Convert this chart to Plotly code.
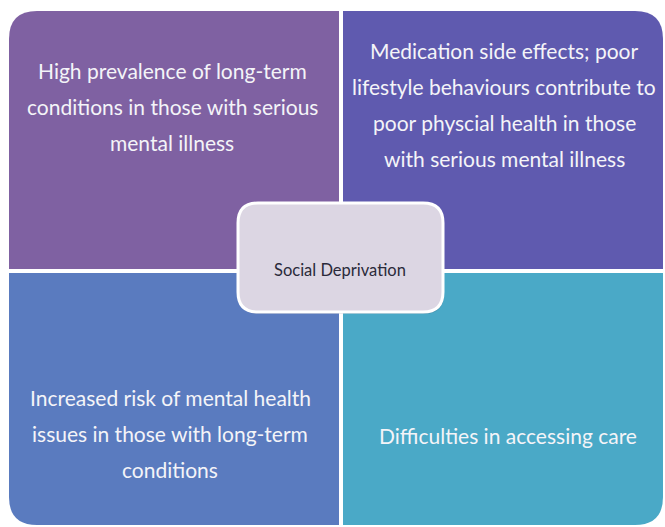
import plotly.graph_objects as go

W, H = 665, 527

# Quadrant content
quad_names = ["top_left", "top_right", "bottom_left", "bottom_right"]
quad_lines = [
    ["High prevalence of long-term", "conditions in those with serious", "mental illness"],
    ["Medication side effects; poor", "lifestyle behaviours contribute to", "poor physcial health in those", "with serious mental illness"],
    ["Increased risk of mental health", "issues in those with long-term", "conditions"],
    ["Difficulties in accessing care"],
]
quad_colors = ["#7F61A2", "#5F5AAF", "#5A7BBF", "#4AA9C7"]
center_label = "Social Deprivation"

# Geometry (pixel coords, y downward)
L, R, T, B = 9, 663, 11, 525
VX0, VX1 = 339, 343
HY0, HY1 = 269, 273
RAD = 28

def rrect(x0, y0, x1, y1, r, corners):
    tl, tr, br, bl = corners
    p = []
    p.append(f"M {x0 + (r if tl else 0)},{y0}")
    p.append(f"L {x1 - (r if tr else 0)},{y0}")
    if tr:
        p.append(f"Q {x1},{y0} {x1},{y0 + r}")
    p.append(f"L {x1},{y1 - (r if br else 0)}")
    if br:
        p.append(f"Q {x1},{y1} {x1 - r},{y1}")
    p.append(f"L {x0 + (r if bl else 0)},{y1}")
    if bl:
        p.append(f"Q {x0},{y1} {x0},{y1 - r}")
    p.append(f"L {x0},{y0 + (r if tl else 0)}")
    if tl:
        p.append(f"Q {x0},{y0} {x0 + r},{y0}")
    p.append("Z")
    return " ".join(p)

quad_boxes = [
    (L, T, VX0, HY0, (True, False, False, False)),
    (VX1, T, R, HY0, (False, True, False, False)),
    (L, HY1, VX0, B, (False, False, False, True)),
    (VX1, HY1, R, B, (False, False, True, False)),
]
text_centers = [(172, 70), (504, 50), (170, 397), (508, 435)]
line_step = 36

shapes = []
annotations = []
for (x0, y0, x1, y1, c), col in zip(quad_boxes, quad_colors):
    shapes.append(dict(type="path", path=rrect(x0, y0, x1, y1, RAD, c),
                       fillcolor=col, line=dict(width=0), layer="below"))

for lines, (cx, cy) in zip(quad_lines, text_centers):
    for i, ln in enumerate(lines):
        annotations.append(dict(x=cx, y=cy + i * line_step, text=ln, showarrow=False,
                                xanchor="center", yanchor="middle",
                                font=dict(family="Lato", size=21, color="#F4F4F8")))

# Center box with shadow
cb = (238, 203, 443, 312)
shapes.append(dict(type="path", path=rrect(cb[0] + 1, cb[1] + 2, cb[2] + 1, cb[3] + 2, 20, (True, True, True, True)),
                   fillcolor="rgba(60,60,80,0.2)", line=dict(width=0)))
shapes.append(dict(type="path", path=rrect(*cb, 20, (True, True, True, True)),
                   fillcolor="#DCD6E3", line=dict(color="white", width=3)))
annotations.append(dict(x=340, y=270, text=center_label, showarrow=False,
                        xanchor="center", yanchor="middle",
                        font=dict(family="Lato", size=16.5, color="#2A2A3A")))

fig = go.Figure()
fig.add_trace(go.Scatter(x=[0, W], y=[0, H], mode="markers", marker=dict(opacity=0), hoverinfo="skip"))
fig.update_layout(
    width=W, height=H, margin=dict(l=0, r=0, t=0, b=0),
    paper_bgcolor="white", plot_bgcolor="white", showlegend=False,
    xaxis=dict(range=[0, W], visible=False, fixedrange=True),
    yaxis=dict(range=[H, 0], visible=False, fixedrange=True),
    shapes=shapes, annotations=annotations,
)
fig.write_html("out.html", config={"displayModeBar": False},
               post_script="document.body.style.margin='0';document.body.style.overflow='hidden';")
